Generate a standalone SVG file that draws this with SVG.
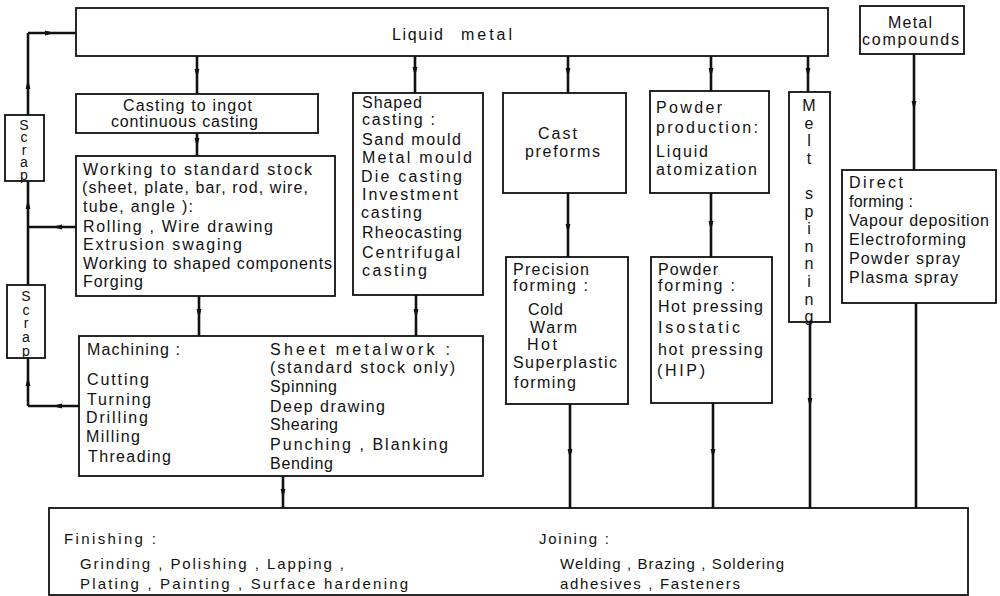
<svg xmlns="http://www.w3.org/2000/svg" width="1000" height="596" viewBox="0 0 1000 596">
<style>
.box{fill:#fff;stroke:#111;stroke-width:1.8}
.c{fill:none;stroke:#111;stroke-width:2.6;marker-mid:url(#ah)}
.cn{fill:none;stroke:#111;stroke-width:2.6}
text{font-family:"Liberation Sans",Arial,sans-serif;font-size:16px;fill:#111}
.s{font-size:15px}
.v{writing-mode:vertical-rl;text-orientation:upright;font-size:14px}
</style>
<defs>
<marker id="ah" viewBox="0 0 10 6" refX="5" refY="3" markerWidth="10" markerHeight="6" markerUnits="userSpaceOnUse" orient="auto">
<path d="M0,0.6 L10,3 L0,5.4 z" fill="#111"/>
</marker>
</defs>
<rect width="1000" height="596" fill="#fff"/>

<g id="connectors">
<path class="c" d="M197,56 L197,74 L197,94"/>
<path class="c" d="M197,133 L197,143 L197,156"/>
<path class="c" d="M199,296 L199,314 L199,336"/>
<path class="c" d="M415,56 L415,72 L415,93"/>
<path class="c" d="M416,295 L416,314 L416,336"/>
<path class="c" d="M568,56 L568,73 L568,93"/>
<path class="c" d="M568,193 L568,229 L568,257"/>
<path class="c" d="M570,404 L570,454 L570,508"/>
<path class="c" d="M711,56 L711,73 L711,91"/>
<path class="c" d="M711,193 L711,226 L711,257"/>
<path class="c" d="M713,403 L713,454 L713,508"/>
<path class="c" d="M808,56 L808,73 L808,92"/>
<path class="c" d="M810,322 L810,403 L810,508"/>
<path class="c" d="M914,54 L914,106 L914,170"/>
<path class="cn" d="M916,303 L916,508"/>
<path class="c" d="M283,476 L283,494 L283,508"/>
<path class="c" d="M76,227 L57,227 L28,227"/>
<path class="c" d="M28,227 L28,204 L28,181"/>
<path class="cn" d="M28,285 L28,227"/>
<path class="c" d="M79,406 L57,406 L28,406"/>
<path class="c" d="M28,406 L28,381 L28,358"/>
<path class="c" d="M28,115 L28,84 L28,33"/>
<path class="c" d="M28,33 L50,33 L76,33"/>
</g>

<g id="liquid-metal">
<rect class="box" x="76" y="8" width="752" height="48"/>
<text x="392" y="40" textLength="51" lengthAdjust="spacing">Liquid</text>
<text x="461" y="40" textLength="51" lengthAdjust="spacing">metal</text>
</g>

<g id="metal-compounds">
<rect class="box" x="860" y="6" width="104" height="48"/>
<text x="888" y="28" textLength="44" lengthAdjust="spacing">Metal</text>
<text x="862" y="45" textLength="97" lengthAdjust="spacing">compounds</text>
</g>

<g id="scrap-1">
<rect class="box" x="5" y="115" width="39" height="66"/>
<text class="v" x="24" y="117" style="letter-spacing:-3.6px">Scrap</text>
</g>

<g id="scrap-2">
<rect class="box" x="7" y="285" width="38" height="73"/>
<text class="v" x="26" y="288" style="letter-spacing:-2.3px">Scrap</text>
</g>

<g id="casting-ingot">
<rect class="box" x="76" y="94" width="242" height="39"/>
<text x="123" y="111" font-size="14" textLength="129" lengthAdjust="spacing">Casting to ingot</text>
<text x="111" y="127" font-size="14" textLength="147" lengthAdjust="spacing">continuous casting</text>
</g>

<g id="working-stock">
<rect class="box" x="76" y="156" width="259" height="140"/>
<text x="83" y="175" textLength="229" lengthAdjust="spacing">Working to standard stock</text>
<text x="82" y="193" textLength="226" lengthAdjust="spacing">(sheet, plate, bar, rod, wire,</text>
<text x="83" y="212" textLength="110" lengthAdjust="spacing">tube, angle ):</text>
<text x="83" y="232" textLength="190" lengthAdjust="spacing">Rolling ,  Wire drawing</text>
<text x="83" y="250" textLength="159" lengthAdjust="spacing">Extrusion swaging</text>
<text x="83" y="269" textLength="249" lengthAdjust="spacing">Working to shaped components</text>
<text x="83" y="287" textLength="60" lengthAdjust="spacing">Forging</text>
</g>

<g id="machining">
<rect class="box" x="79" y="336" width="404" height="140"/>
<text x="87" y="355" textLength="93" lengthAdjust="spacing">Machining :</text>
<text x="87" y="385" textLength="62" lengthAdjust="spacing">Cutting</text>
<text x="87" y="405" textLength="64" lengthAdjust="spacing">Turning</text>
<text x="86" y="423" textLength="62" lengthAdjust="spacing">Drilling</text>
<text x="86" y="442" textLength="54" lengthAdjust="spacing">Milling</text>
<text x="88" y="462" textLength="83" lengthAdjust="spacing">Threading</text>
<text x="270" y="355" textLength="180" lengthAdjust="spacing">Sheet metalwork :</text>
<text x="270" y="373" textLength="185" lengthAdjust="spacing">(standard stock only)</text>
<text x="270" y="392" textLength="67" lengthAdjust="spacing">Spinning</text>
<text x="270" y="412" textLength="115" lengthAdjust="spacing">Deep drawing</text>
<text x="270" y="430" textLength="68" lengthAdjust="spacing">Shearing</text>
<text x="270" y="450" textLength="178" lengthAdjust="spacing">Punching , Blanking</text>
<text x="270" y="469" textLength="63" lengthAdjust="spacing">Bending</text>
</g>

<g id="shaped-casting">
<rect class="box" x="353" y="93" width="130" height="202"/>
<text x="362" y="108" textLength="60" lengthAdjust="spacing">Shaped</text>
<text x="362" y="125" textLength="73" lengthAdjust="spacing">casting :</text>
<text x="362" y="145" textLength="99" lengthAdjust="spacing">Sand mould</text>
<text x="362" y="163" textLength="110" lengthAdjust="spacing">Metal mould</text>
<text x="361" y="182" textLength="101" lengthAdjust="spacing">Die casting</text>
<text x="362" y="200" textLength="96" lengthAdjust="spacing">Investment</text>
<text x="361" y="218" textLength="61" lengthAdjust="spacing">casting</text>
<text x="362" y="238" textLength="100" lengthAdjust="spacing">Rheocasting</text>
<text x="362" y="258" textLength="98" lengthAdjust="spacing">Centrifugal</text>
<text x="362" y="276" textLength="65" lengthAdjust="spacing">casting</text>
</g>

<g id="cast-preforms">
<rect class="box" x="503" y="93" width="123" height="100"/>
<text x="538" y="139" textLength="39" lengthAdjust="spacing">Cast</text>
<text x="525" y="157" textLength="75" lengthAdjust="spacing">preforms</text>
</g>

<g id="precision-forming">
<rect class="box" x="506" y="257" width="122" height="147"/>
<text x="513" y="275" textLength="76" lengthAdjust="spacing">Precision</text>
<text x="513" y="291" textLength="75" lengthAdjust="spacing">forming :</text>
<text x="528" y="315" textLength="35" lengthAdjust="spacing">Cold</text>
<text x="530" y="333" textLength="47" lengthAdjust="spacing">Warm</text>
<text x="527" y="350" textLength="30" lengthAdjust="spacing">Hot</text>
<text x="513" y="368" textLength="104" lengthAdjust="spacing">Superplastic</text>
<text x="514" y="388" textLength="62" lengthAdjust="spacing">forming</text>
</g>

<g id="powder-production">
<rect class="box" x="650" y="91" width="119" height="102"/>
<text x="656" y="113" textLength="66" lengthAdjust="spacing">Powder</text>
<text x="656" y="133" textLength="102" lengthAdjust="spacing">production:</text>
<text x="656" y="157" textLength="52" lengthAdjust="spacing">Liquid</text>
<text x="656" y="175" textLength="101" lengthAdjust="spacing">atomization</text>
</g>

<g id="powder-forming">
<rect class="box" x="651" y="257" width="121" height="146"/>
<text x="658" y="275" textLength="60" lengthAdjust="spacing">Powder</text>
<text x="658" y="291" textLength="77" lengthAdjust="spacing">forming :</text>
<text x="658" y="312" textLength="105" lengthAdjust="spacing">Hot pressing</text>
<text x="658" y="333" textLength="82" lengthAdjust="spacing">Isostatic</text>
<text x="658" y="355" textLength="105" lengthAdjust="spacing">hot pressing</text>
<text x="657" y="376" textLength="48" lengthAdjust="spacing">(HIP)</text>
</g>

<g id="melt-spinning">
<rect class="box" x="789" y="92" width="41" height="230"/>
<text class="v" x="809" y="97" style="font-size:16px;letter-spacing:0.6px">Melt spinning</text>
</g>

<g id="direct-forming">
<rect class="box" x="842" y="170" width="154" height="133"/>
<text x="849" y="188" textLength="54" lengthAdjust="spacing">Direct</text>
<text x="849" y="207" textLength="64" lengthAdjust="spacing">forming :</text>
<text x="849" y="226" textLength="140" lengthAdjust="spacing">Vapour deposition</text>
<text x="849" y="245" textLength="117" lengthAdjust="spacing">Electroforming</text>
<text x="849" y="264" textLength="111" lengthAdjust="spacing">Powder spray</text>
<text x="849" y="283" textLength="109" lengthAdjust="spacing">Plasma spray</text>
</g>

<g id="finishing-joining">
<rect class="box" x="49" y="508" width="919" height="87"/>
<text class="s" x="64" y="544" textLength="92" lengthAdjust="spacing">Finishing :</text>
<text class="s" x="80" y="569" textLength="264" lengthAdjust="spacing">Grinding , Polishing , Lapping ,</text>
<text class="s" x="80" y="589" textLength="328" lengthAdjust="spacing">Plating , Painting , Surface hardening</text>
<text class="s" x="539" y="544" textLength="70" lengthAdjust="spacing">Joining :</text>
<text class="s" x="560" y="569" textLength="224" lengthAdjust="spacing">Welding , Brazing , Soldering</text>
<text class="s" x="560" y="589" textLength="180" lengthAdjust="spacing">adhesives , Fasteners</text>
</g>
</svg>
